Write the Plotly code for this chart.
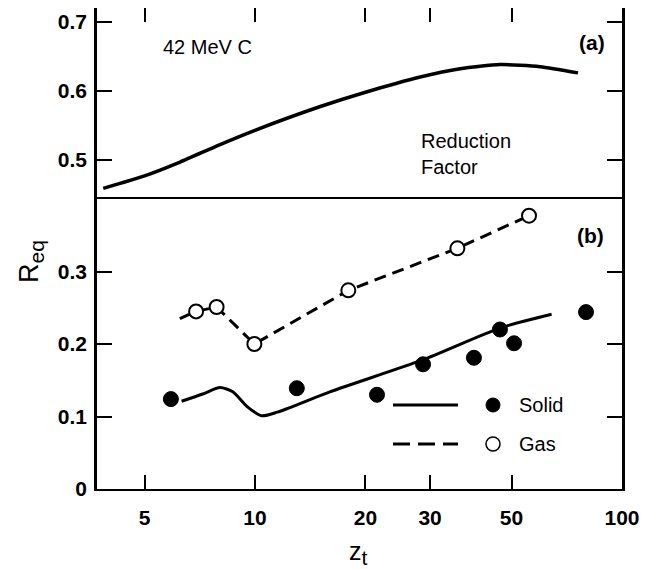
import plotly.graph_objects as go

# ---- data ----
# panel (a): reduction factor curve
z_a = [3.86, 5.0, 6.25, 8.0, 10.0, 15.0, 20.0, 28.2, 36.2, 46.5, 59.8, 75.9]
r_a = [0.459, 0.477, 0.497, 0.522, 0.543, 0.577, 0.598, 0.620, 0.632, 0.638, 0.635, 0.626]

# panel (b): solid theory line
z_solid_line = [6.31, 7.2, 8.03, 8.7, 9.5, 10.43, 11.5, 16.0, 28.6, 46.5, 64.3]
r_solid_line = [0.121, 0.131, 0.140, 0.134, 0.114, 0.101, 0.106, 0.134, 0.178, 0.222, 0.241]

# panel (b): gas theory line (dashed)
z_gas_line = [6.24, 6.91, 7.86, 9.96, 17.96, 35.6, 55.8]
r_gas_line = [0.235, 0.245, 0.251, 0.200, 0.274, 0.332, 0.377]

# panel (b): measured points
z_solid = [5.90, 13.0, 21.5, 28.7, 39.5, 46.5, 50.8, 79.8]
r_solid = [0.124, 0.139, 0.130, 0.172, 0.181, 0.220, 0.201, 0.244]
z_gas = [6.91, 7.86, 9.96, 17.96, 35.6, 55.8]
r_gas = [0.245, 0.251, 0.200, 0.274, 0.332, 0.377]

x_ticks = [5, 10, 20, 30, 50, 100]
ya_ticks = [0.5, 0.6, 0.7]
yb_ticks = [0, 0.1, 0.2, 0.3]

# ---- layout geometry (page has an 8px body margin) ----
OFF = 8
FW, FH = 639, 561
L, R, T, B = 89, 25, 0, 80
PW, PH = FW - L - R, FH - T - B
split = 290 / PH

def px(X):
    return (X - OFF - L) / PW

def py(Y):
    return (FH - B - (Y - OFF)) / PH

FONT = "Liberation Sans, Arial, sans-serif"

fig = go.Figure()

fig.add_trace(go.Scatter(x=z_a, y=r_a, mode="lines", xaxis="x2", yaxis="y2",
                         line=dict(color="black", width=3.5, shape="spline", smoothing=0.6),
                         showlegend=False))
fig.add_trace(go.Scatter(x=z_solid_line, y=r_solid_line, mode="lines",
                         line=dict(color="black", width=3, shape="spline", smoothing=0.7),
                         showlegend=False))
fig.add_trace(go.Scatter(x=z_gas_line, y=r_gas_line, mode="lines",
                         line=dict(color="black", width=3, dash="12px,7px"),
                         showlegend=False))
fig.add_trace(go.Scatter(x=z_solid, y=r_solid, mode="markers",
                         marker=dict(color="black", size=15, line=dict(color="black", width=1)),
                         showlegend=False))
fig.add_trace(go.Scatter(x=z_gas, y=r_gas, mode="markers",
                         marker=dict(color="white", size=14, line=dict(color="black", width=2)),
                         showlegend=False))

tickfont = dict(family=FONT, size=21, color="black", weight="bold")
xrange = [0.5695, 2.0]

common_x = dict(type="log", range=xrange, tickvals=x_ticks, ticktext=[str(v) for v in x_ticks],
                ticks="inside", ticklen=14, tickwidth=1.5, tickcolor="black",
                showline=True, linewidth=2.2, linecolor="black",
                showgrid=False, zeroline=False)

fig.update_layout(
    width=FW, height=FH,
    margin=dict(l=L, r=R, t=T, b=B),
    paper_bgcolor="white", plot_bgcolor="white",
    xaxis=dict(**common_x, anchor="y", side="bottom", mirror=True, tickfont=tickfont,
               ticklabelstandoff=9),
    xaxis2=dict(**common_x, anchor="y2", side="top", mirror=False, showticklabels=False,
                matches="x"),
    yaxis=dict(domain=[0, split], range=[0, 0.40], tickvals=yb_ticks,
               ticktext=["0", "0.1", "0.2", "0.3"],
               ticks="inside", ticklen=15, tickwidth=1.5, tickcolor="black",
               showline=True, linewidth=2.5, linecolor="black", mirror="ticks",
               showgrid=False, zeroline=False, tickfont=tickfont, ticklabelstandoff=3),
    yaxis2=dict(domain=[split, 1], range=[0.4436, 0.7198], tickvals=ya_ticks,
                ticktext=["0.5", "0.6", "0.7"],
                ticks="inside", ticklen=15, tickwidth=1.5, tickcolor="black",
                showline=True, linewidth=2.5, linecolor="black", mirror="ticks",
                showgrid=False, zeroline=False, tickfont=tickfont, ticklabelstandoff=3),
)

txt = dict(family=FONT, size=20, color="black")
bold = dict(family=FONT, size=21, color="black", weight="bold")

ann = [
    dict(x=px(207), y=py(47), text="42 MeV C", font=txt),
    dict(x=px(592), y=py(42), text="(a)", font=bold),
    dict(x=px(590), y=py(235), text="(b)", font=bold),
    dict(x=px(419), y=py(154), text="Reduction<br>Factor", font=txt, xanchor="left", align="left"),
    dict(x=px(517), y=py(405), text="Solid", font=txt, xanchor="left"),
    dict(x=px(517), y=py(444), text="Gas", font=txt, xanchor="left"),
    dict(x=px(31), y=py(262),
         text='R<sub><span style="font-size:21px">eq</span></sub>',
         font=dict(family=FONT, size=27, color="black"), textangle=-90),
    dict(x=px(358), y=py(553),
         text='z<sub><span style="font-size:21px">t</span></sub>',
         font=dict(family=FONT, size=25, color="black")),
]
for a in ann:
    a.setdefault("xanchor", "center")
    a.setdefault("yanchor", "middle")
    fig.add_annotation(xref="paper", yref="paper", showarrow=False, **a)

# legend samples
fig.add_shape(type="line", xref="paper", yref="paper", x0=px(393), x1=px(458), y0=py(405), y1=py(405),
              line=dict(color="black", width=3))
fig.add_shape(type="line", xref="paper", yref="paper", x0=px(393), x1=px(458), y0=py(444), y1=py(444),
              line=dict(color="black", width=3, dash="17px,8px"))
fig.add_shape(type="circle", xref="paper", yref="paper", x0=px(486), x1=px(500), y0=py(398), y1=py(412),
              fillcolor="black", line=dict(color="black", width=1))
fig.add_shape(type="circle", xref="paper", yref="paper", x0=px(486), x1=px(500), y0=py(437), y1=py(451),
              fillcolor="white", line=dict(color="black", width=1.5))

fig.write_html("out.html")
